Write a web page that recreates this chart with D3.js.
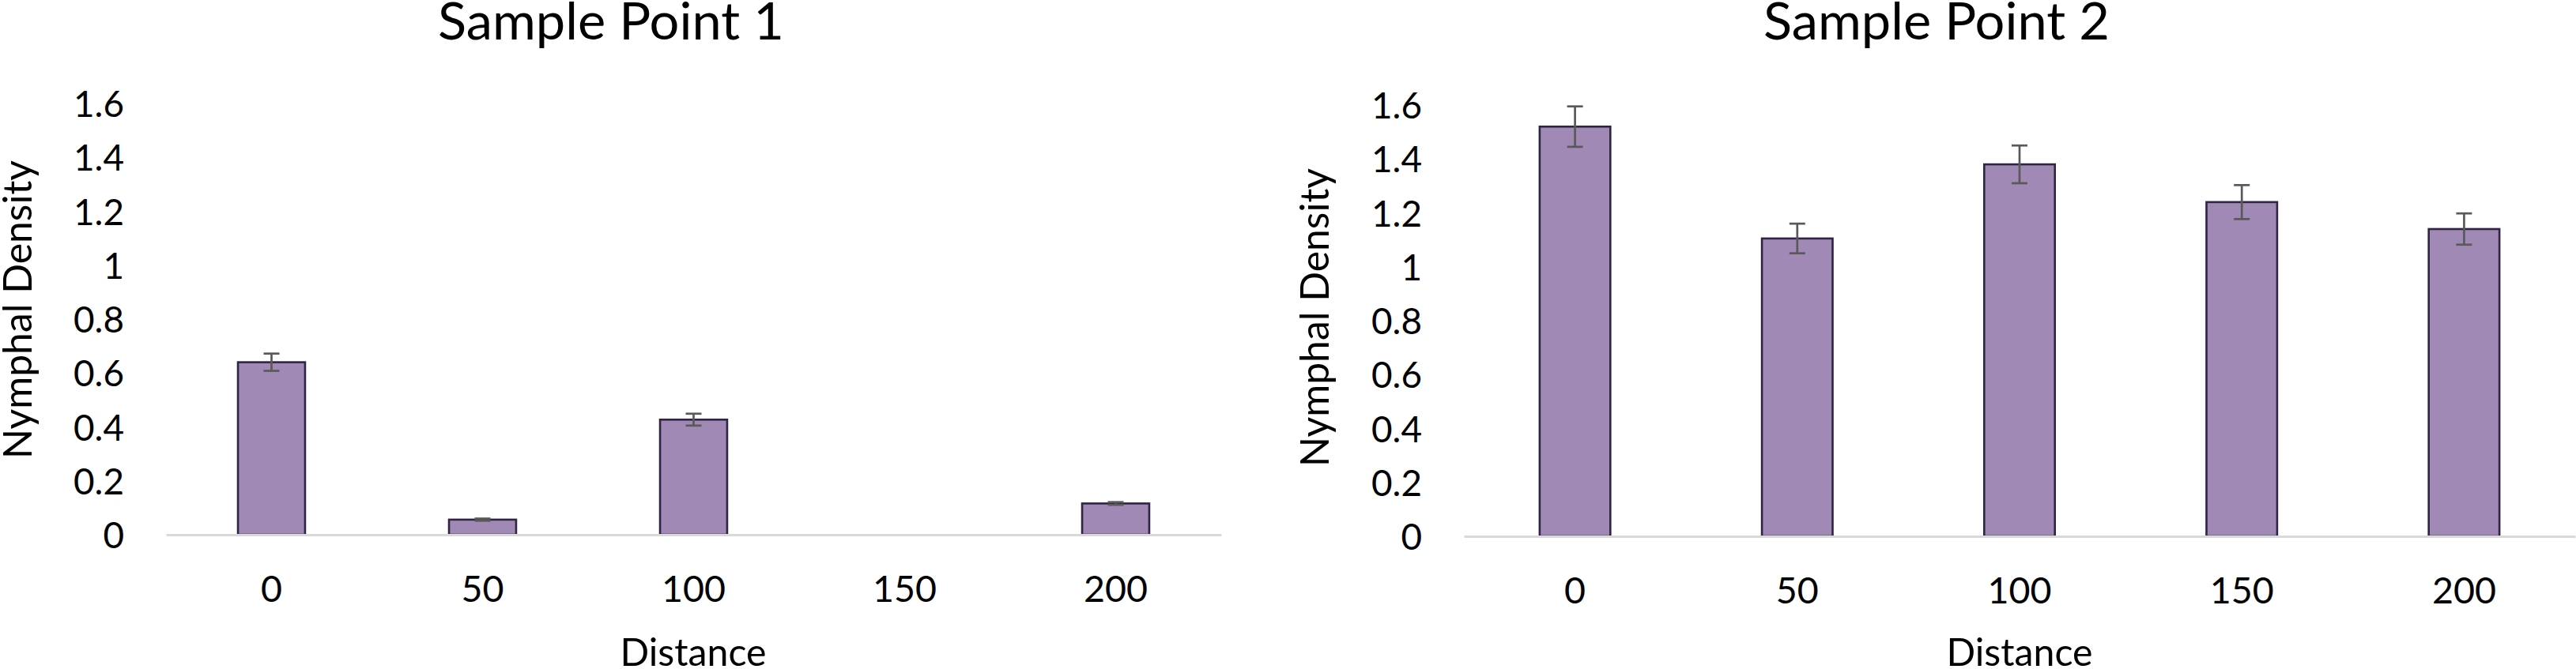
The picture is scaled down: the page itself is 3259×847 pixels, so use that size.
<!DOCTYPE html>
<html><head><meta charset="utf-8">
<script src="https://cdn.jsdelivr.net/npm/d3@7"></script>
<style>
body{margin:0;background:#fff}
text{font-family:Lato,"Open Sans",sans-serif;fill:#000}
</style>
</head><body><svg id="c" width="3259" height="847"></svg>
<script>
// ---- data ----
const categories = ["0", "50", "100", "150", "200"];
const sp1Values = [0.64, 0.056, 0.427, null, 0.116];
const sp1Errors = [0.032, 0.004, 0.022, null, 0.005];
const sp2Values = [1.52, 1.105, 1.38, 1.24, 1.14];
const sp2Errors = [0.075, 0.055, 0.07, 0.063, 0.058];
const yTicks = [0, 0.2, 0.4, 0.6, 0.8, 1, 1.2, 1.4, 1.6];
const titles = ["Sample Point 1", "Sample Point 2"];
const xTitle = "Distance";
const yTitle = "Nymphal Density";

// ---- layout ----
const svg = d3.select("#c");
function fit(str, target) {
  const t = svg.append("text").attr("font-size", 100).text(str);
  const w = t.node().getComputedTextLength();
  t.remove();
  return 100 * target / w;
}
const fsTitle = fit("Sample Point 1", 438);
const fsYTick = fit("1.6", 64);
const fsXTick = fit("100", 81);
const fsXTitle = fit("Distance", 185);
const fsYTitle = fit("Nymphal Density", 378);

const panels = [
  {values: sp1Values, errors: sp1Errors, title: titles[0], x0: 210, x1: 1545, zero: 677, top: 131,
   titleX: 773, yTitleX: 39.5, yTitleY: 392, xTitleX: 877},
  {values: sp2Values, errors: sp2Errors, title: titles[1], x0: 1852, x1: 3258, zero: 679, top: 133,
   titleX: 2450, yTitleX: 1681, yTitleY: 402, xTitleX: 2555}
];

const fill = "#a189b5", stroke = "#2f2441", errColor = "#595959";

panels.forEach(p => {
  const x = d3.scaleBand().domain(categories).range([p.x0, p.x1]).paddingInner(0.682).paddingOuter(0.341);
  const y = d3.scaleLinear().domain([0, 1.6]).range([p.zero, p.top]);
  const g = svg.append("g");

  // y axis (labels only)
  const ya = g.append("g").attr("transform", `translate(${p.x0},0)`)
    .call(d3.axisLeft(y).tickValues(yTicks).tickFormat(d => String(d)).tickSize(0).tickPadding(53));
  ya.select(".domain").remove();
  ya.selectAll("text").attr("font-size", fsYTick).attr("dy", "0.36em")
    .style("font-family", "Lato,'Open Sans',sans-serif").attr("fill", "#000");

  const data = categories.map((c, i) => ({c, v: p.values[i], e: p.errors[i]})).filter(d => d.v != null);

  // bars
  g.selectAll("rect.bar").data(data).join("rect").attr("class", "bar")
    .attr("x", d => x(d.c)).attr("width", x.bandwidth())
    .attr("y", d => y(d.v)).attr("height", d => y(0) - y(d.v))
    .attr("fill", fill).attr("stroke", stroke).attr("stroke-width", 2.6);

  // x axis
  const xa = g.append("g").attr("transform", `translate(0,${p.zero})`)
    .call(d3.axisBottom(x).tickSize(0).tickSizeOuter(0).tickPadding(52));
  xa.select(".domain").attr("stroke", "#d9d9d9").attr("stroke-width", 3);
  xa.selectAll("text").attr("font-size", fsXTick)
    .style("font-family", "Lato,'Open Sans',sans-serif").attr("fill", "#000");

  // error bars
  const cap = 10;
  const eb = g.selectAll("g.err").data(data).join("g").attr("class", "err")
    .attr("stroke", errColor).attr("stroke-width", 2.7);
  eb.append("line")
    .attr("x1", d => x(d.c) + x.bandwidth() / 2).attr("x2", d => x(d.c) + x.bandwidth() / 2)
    .attr("y1", d => y(d.v + d.e)).attr("y2", d => y(d.v - d.e));
  eb.append("line")
    .attr("x1", d => x(d.c) + x.bandwidth() / 2 - cap).attr("x2", d => x(d.c) + x.bandwidth() / 2 + cap)
    .attr("y1", d => y(d.v + d.e)).attr("y2", d => y(d.v + d.e));
  eb.append("line")
    .attr("x1", d => x(d.c) + x.bandwidth() / 2 - cap).attr("x2", d => x(d.c) + x.bandwidth() / 2 + cap)
    .attr("y1", d => y(d.v - d.e)).attr("y2", d => y(d.v - d.e));

  // titles
  g.append("text").attr("x", p.titleX).attr("y", 50).attr("text-anchor", "middle")
    .attr("font-size", fsTitle).text(p.title);
  g.append("text").attr("x", p.xTitleX).attr("y", 843).attr("text-anchor", "middle")
    .attr("font-size", fsXTitle).text(xTitle);
  g.append("text").attr("transform", `translate(${p.yTitleX},${p.yTitleY}) rotate(-90)`)
    .attr("text-anchor", "middle").attr("font-size", fsYTitle).text(yTitle);
});
</script>
</body></html>
